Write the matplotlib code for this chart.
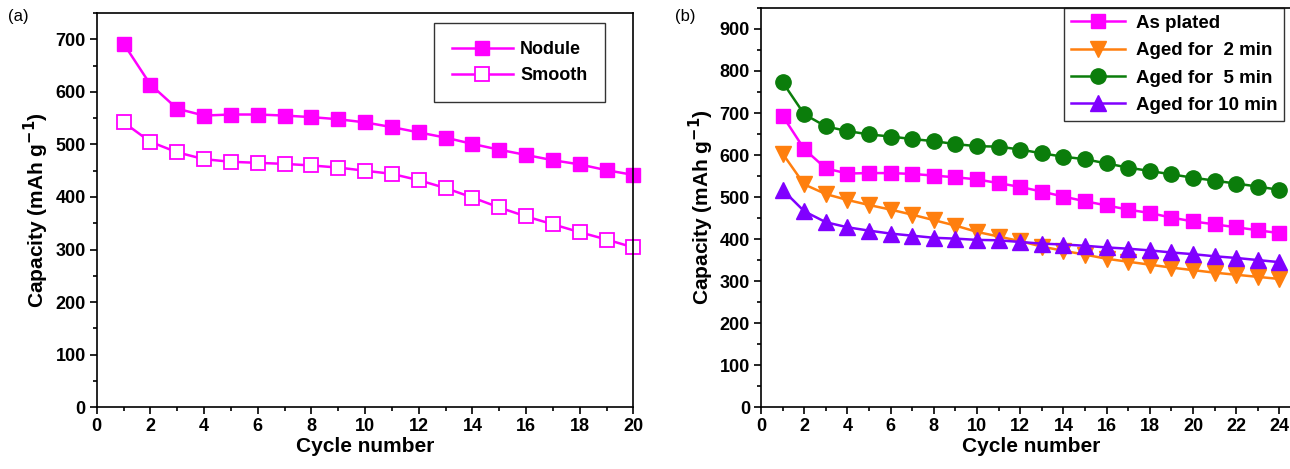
import matplotlib.pyplot as plt
from matplotlib.ticker import MultipleLocator

plt.rcParams['font.family'] = ['Liberation Sans', 'DejaVu Sans']

# panel (a)
cycles_a = list(range(1, 21))
nodule = [692, 614, 568, 555, 557, 557, 555, 552, 548, 542,
          533, 523, 513, 501, 490, 480, 470, 462, 451, 442]
smooth = [542, 505, 485, 472, 467, 465, 463, 460, 456, 450,
          444, 432, 417, 399, 380, 363, 348, 333, 319, 304]

# panel (b)
cycles_b = list(range(1, 25))
as_plated = [693, 614, 568, 556, 557, 557, 555, 551, 547, 542, 533, 524,
             513, 501, 490, 480, 470, 462, 451, 442, 435, 428, 421, 414]
aged_2 = [603, 530, 507, 493, 481, 470, 458, 445, 432, 417, 406, 395,
          382, 372, 363, 353, 346, 339, 332, 326, 320, 315, 310, 305]
aged_5 = [773, 697, 668, 657, 649, 644, 638, 633, 626, 621, 620, 613,
          604, 596, 590, 580, 570, 562, 554, 546, 539, 532, 525, 517]
aged_10 = [517, 466, 440, 428, 420, 413, 408, 403, 401, 398, 397, 393,
           389, 387, 384, 380, 377, 373, 368, 364, 359, 355, 350, 345]

MAG = '#ff00ff'
ORG = '#ff7f0e'
GRN = '#0b7d0b'
PUR = '#8000ff'

fig = plt.figure(figsize=(12.9, 4.69), dpi=100)
ax1 = fig.add_axes([0.075, 0.132, 0.416, 0.840])
ax2 = fig.add_axes([0.590, 0.132, 0.4185, 0.851])


def style(ax, xmax, ymax):
    ax.set_xlim(0, xmax)
    ax.set_ylim(0, ymax)
    ax.xaxis.set_major_locator(MultipleLocator(2))
    ax.xaxis.set_minor_locator(MultipleLocator(1))
    ax.yaxis.set_major_locator(MultipleLocator(100))
    ax.yaxis.set_minor_locator(MultipleLocator(50))
    ax.tick_params(which='both', direction='out', top=False, right=False,
                   width=1.2, labelsize=13)
    ax.tick_params(which='major', length=5, pad=3)
    ax.tick_params(which='minor', length=3)
    for lab in ax.get_xticklabels() + ax.get_yticklabels():
        lab.set_fontweight('bold')
    for sp in ax.spines.values():
        sp.set_linewidth(1.2)
    ax.set_xlabel('Cycle number', fontsize=15, fontweight='bold', labelpad=1)
    ax.set_ylabel('Capacity (mAh g$^{\\mathbf{-1}}$)', fontsize=15,
                  fontweight='bold', labelpad=3)


ax1.plot(cycles_a, nodule, color=MAG, lw=1.8, marker='s', ms=10,
         label='Nodule', clip_on=False)
ax1.plot(cycles_a, smooth, color=MAG, lw=1.8, marker='s', ms=10,
         mfc='white', mec=MAG, mew=1.3, label='Smooth', clip_on=False)
style(ax1, 20, 750)
leg = ax1.legend(loc='upper right', bbox_to_anchor=(0.948, 0.975),
                 borderaxespad=0, prop={'weight': 'bold', 'size': 13},
                 fancybox=False, edgecolor='black', handlelength=3.4,
                 handletextpad=0.4, borderpad=1.0, labelspacing=0.5)
leg.get_frame().set_linewidth(1.0)

ax2.plot(cycles_b, as_plated, color=MAG, lw=1.8, marker='s', ms=10,
         label='As plated', clip_on=False)
ax2.plot(cycles_b, aged_2, color=ORG, lw=1.8, marker='v', ms=11,
         label='Aged for  2 min', clip_on=False)
ax2.plot(cycles_b, aged_5, color=GRN, lw=1.8, marker='o', ms=11,
         label='Aged for  5 min', clip_on=False)
ax2.plot(cycles_b, aged_10, color=PUR, lw=1.8, marker='^', ms=11,
         label='Aged for 10 min', clip_on=False)
style(ax2, 25, 950)
leg2 = ax2.legend(loc='upper left', bbox_to_anchor=(0.561, 1.0),
                  borderaxespad=0, prop={'weight': 'bold', 'size': 13.5},
                  fancybox=False, edgecolor='black', handlelength=2.9,
                  handletextpad=0.6, borderpad=0.35, labelspacing=0.55)
leg2.get_frame().set_linewidth(1.0)

fig.text(0.006, 0.955, '(a)', fontsize=12)
fig.text(0.523, 0.955, '(b)', fontsize=12)

fig.savefig('out.png', dpi=100)
